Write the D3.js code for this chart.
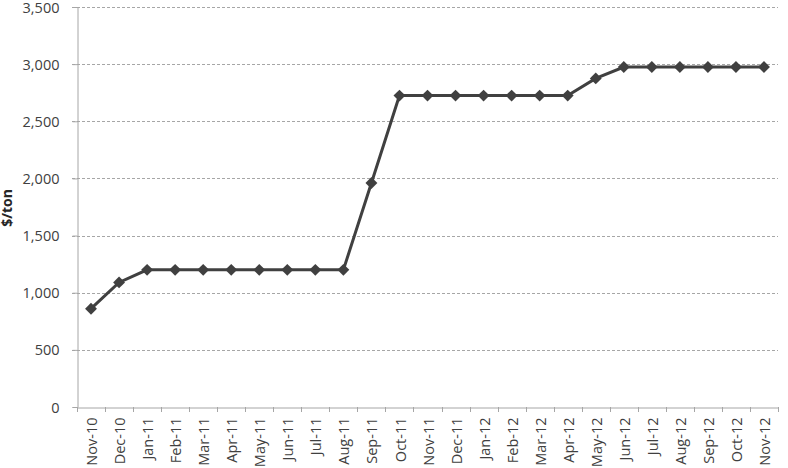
<!DOCTYPE html>
<html>
<head>
<meta charset="utf-8">
<script src="https://cdn.jsdelivr.net/npm/d3@7"></script>
<style>
  body { margin: 0; background: #fff; }
  text { font-family: "Open Sans", "Liberation Sans", sans-serif; }
</style>
</head>
<body>
<div id="chart"></div>
<script>
var months = ['Nov-10','Dec-10','Jan-11','Feb-11','Mar-11','Apr-11','May-11','Jun-11','Jul-11','Aug-11',
  'Sep-11','Oct-11','Nov-11','Dec-11','Jan-12','Feb-12','Mar-12','Apr-12','May-12','Jun-12',
  'Jul-12','Aug-12','Sep-12','Oct-12','Nov-12'];
var prices = [860, 1090, 1200, 1200, 1200, 1200, 1200, 1200, 1200, 1200,
  1960, 2725, 2725, 2725, 2725, 2725, 2725, 2725, 2875, 2975,
  2975, 2975, 2975, 2975, 2975];
var y_ticks = [0, 500, 1000, 1500, 2000, 2500, 3000, 3500];

var chart_width = 788;
var chart_height = 468;
var plot_left = 77, plot_right = 778, plot_top = 7, plot_bottom = 407;

var svg = d3.select('#chart')
  .append('svg')
  .attr('width', chart_width)
  .attr('height', chart_height);

var x_scale = d3.scaleBand()
  .domain(months)
  .range([plot_left, plot_right]);

var y_scale = d3.scaleLinear()
  .domain([0, 3500])
  .range([plot_bottom, plot_top]);

// gridlines
svg.append('g')
  .selectAll('line')
  .data(y_ticks.slice(1))
  .enter()
  .append('line')
  .attr('x1', plot_left - 5)
  .attr('x2', plot_right)
  .attr('y1', function(d) { return Math.round(y_scale(d)) + 0.5; })
  .attr('y2', function(d) { return Math.round(y_scale(d)) + 0.5; })
  .attr('stroke', '#a6a6a6')
  .attr('stroke-dasharray', '3,2');

// y axis
var y_axis = d3.axisLeft(y_scale)
  .tickValues(y_ticks)
  .tickSize(5)
  .tickFormat(d3.format(','));

svg.append('g')
  .attr('class', 'y-axis')
  .attr('transform', 'translate(' + (plot_left + 0.5) + ', 0)')
  .call(y_axis);

// x axis
var x_axis = d3.axisBottom(x_scale)
  .tickSize(0);

var xg = svg.append('g')
  .attr('class', 'x-axis')
  .attr('transform', 'translate(0, ' + (plot_bottom + 0.5) + ')')
  .call(x_axis);

xg.selectAll('text')
  .attr('transform', 'rotate(-90)')
  .attr('text-anchor', 'end')
  .attr('x', -10)
  .attr('y', 1)
  .attr('dy', '0.35em');

// boundary ticks on x axis
svg.append('g')
  .selectAll('line')
  .data(months.concat(['end']))
  .enter()
  .append('line')
  .attr('x1', function(d, i) { return Math.round(plot_left + i * x_scale.step()) + 0.5; })
  .attr('x2', function(d, i) { return Math.round(plot_left + i * x_scale.step()) + 0.5; })
  .attr('y1', plot_bottom)
  .attr('y2', plot_bottom + 5)
  .attr('stroke', '#a6a6a6');

svg.selectAll('.domain').attr('stroke', '#a6a6a6');
svg.selectAll('.y-axis line').attr('stroke', '#a6a6a6');
svg.selectAll('.y-axis text, .x-axis text')
  .attr('fill', '#404040')
  .style('font-size', '14.5px');
svg.select('.y-axis').selectAll('text').attr('x', -18).attr('dy', '0.35em');

// axis title
svg.append('text')
  .attr('transform', 'translate(12, 208) rotate(-90)')
  .attr('text-anchor', 'middle')
  .attr('fill', '#262626')
  .style('font-size', '14px')
  .style('font-weight', 'bold')
  .text('$/ton');

// line
var line = d3.line()
  .x(function(d, i) { return x_scale(months[i]) + x_scale.bandwidth() / 2; })
  .y(function(d) { return y_scale(d); });

svg.append('path')
  .datum(prices)
  .attr('d', line)
  .attr('fill', 'none')
  .attr('stroke', '#404040')
  .attr('stroke-width', 3);

svg.append('g')
  .selectAll('path')
  .data(prices)
  .enter()
  .append('path')
  .attr('d', d3.symbol().type(d3.symbolDiamond2).size(90))
  .attr('transform', function(d, i) {
    return 'translate(' + (x_scale(months[i]) + x_scale.bandwidth() / 2) + ',' + y_scale(d) + ')';
  })
  .attr('fill', '#404040');
</script>
</body>
</html>
